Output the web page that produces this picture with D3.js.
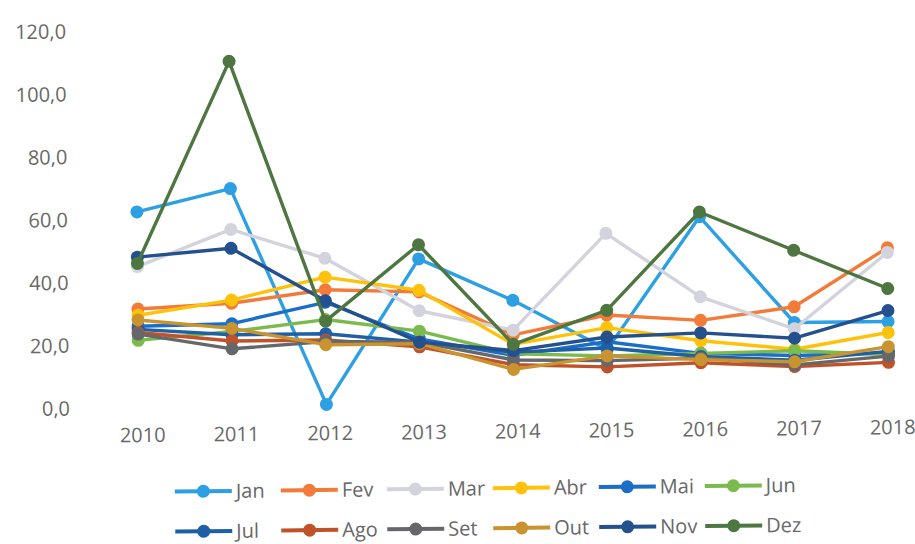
<!DOCTYPE html>
<html>
<head>
<meta charset="utf-8">
<script src="https://cdn.jsdelivr.net/npm/d3@7"></script>
<style>
  html, body { margin: 0; padding: 0; background: #fff; }
  svg { display: block; }
  text { font-family: "Open Sans", "Liberation Sans", sans-serif; }
</style>
</head>
<body>
<svg id="chart" width="915" height="544"></svg>
<script>
// Anos (eixo X)
const years = ["2010", "2011", "2012", "2013", "2014", "2015", "2016", "2017", "2018"];
const months = ["Jan", "Fev", "Mar", "Abr", "Mai", "Jun", "Jul", "Ago", "Set", "Out", "Nov", "Dez"];
const yTicks = [0, 20, 40, 60, 80, 100, 120];

// Valores mensais por ano
const jan = [62.4, 69.5, 0.5, 46.5, 33.0, 17.0, 59.0, 25.0, 25.0];
const fev = [31.5, 33.0, 37.0, 36.0, 22.0, 28.0, 26.0, 30.0, 48.5];
const mar = [45.0, 56.5, 47.0, 30.0, 23.5, 54.0, 33.5, 23.0, 47.0];
const abr = [29.5, 34.0, 41.0, 36.5, 19.0, 24.0, 19.5, 16.5, 21.5];
const mai = [26.0, 26.5, 33.0, 21.0, 15.5, 19.5, 15.5, 14.5, 15.0];
const jun = [21.5, 24.0, 27.5, 23.5, 16.0, 15.0, 15.5, 16.0, 14.5];
const jul = [25.0, 23.0, 23.0, 20.0, 16.5, 17.5, 14.5, 13.0, 15.5];
const ago = [24.0, 21.0, 21.0, 18.5, 12.5, 11.5, 12.5, 11.0, 12.0];
const set = [23.5, 18.5, 20.5, 20.0, 14.0, 13.5, 14.0, 11.5, 14.0];
const out = [28.0, 25.0, 19.5, 19.5, 11.0, 15.0, 13.5, 12.5, 17.0];
const nov = [48.0, 50.5, 33.5, 20.0, 17.0, 21.0, 22.0, 20.0, 28.5];
const dez = [46.0, 110.0, 27.0, 51.0, 19.0, 29.5, 60.5, 48.0, 35.5];

const colors = ["#2d9fe3", "#f27b3a", "#d3d3de", "#fec20c", "#1a6ec7", "#7bbb4e",
                "#1f5fa6", "#c0522a", "#66676b", "#c99430", "#24508e", "#4e7640"];

const seriesValues = [jan, fev, mar, abr, mai, jun, jul, ago, set, out, nov, dez];
const series = months.map((m, i) => ({ name: m, color: colors[i], values: seriesValues[i] }));

const svg = d3.select("#chart");
// leve inclinação do conjunto
const root = svg.append("g").attr("transform", "rotate(-0.6 512 220)");

const x = d3.scalePoint().domain(years).range([137, 887]);
const y = d3.scaleLinear().domain([0, 120]).range([404, 27]);

const labelColor = "#686868";

// Eixo Y (apenas rótulos)
const fmt = v => d3.format(".1f")(v).replace(".", ",");
const yAxis = root.append("g").attr("transform", "translate(70,0)")
  .call(d3.axisLeft(y).tickValues(yTicks).tickFormat(fmt).tickSize(0).tickPadding(2));
yAxis.select(".domain").remove();
yAxis.selectAll("text").attr("fill", labelColor).attr("font-size", 20)
  .style("font-family", "'Open Sans', sans-serif");

// Eixo X (apenas rótulos)
const xAxis = root.append("g").attr("transform", "translate(3,424)")
  .call(d3.axisBottom(x).tickSize(0).tickPadding(0));
xAxis.select(".domain").remove();
xAxis.selectAll("text").attr("fill", labelColor).attr("font-size", 20)
  .attr("dy", "0.71em")
  .style("font-family", "'Open Sans', sans-serif");

// Linhas e marcadores
const line = d3.line().x((d, i) => x(years[i])).y(d => y(d));
const gS = root.append("g");
series.forEach(s => {
  const g = gS.append("g");
  g.append("path").datum(s.values)
    .attr("d", line).attr("fill", "none")
    .attr("stroke", s.color).attr("stroke-width", 3.4)
    .attr("stroke-linejoin", "round");
  g.selectAll("circle").data(s.values).join("circle")
    .attr("cx", (d, i) => x(years[i])).attr("cy", d => y(d))
    .attr("r", 6.5).attr("fill", s.color);
});

// Legenda em duas linhas de seis itens
const legCols = 6, colW = 106, legX0 = 172, rowY = [488, 528], symW = 57;
const leg = root.append("g");
series.forEach((s, i) => {
  const col = i % legCols, row = Math.floor(i / legCols);
  const gx = legX0 + col * colW, gy = rowY[row];
  const g = leg.append("g").attr("transform", `translate(${gx},${gy})`);
  g.append("line").attr("x1", 0).attr("x2", symW).attr("y1", 0).attr("y2", 0)
    .attr("stroke", s.color).attr("stroke-width", 4);
  g.append("circle").attr("cx", symW / 2).attr("cy", 0).attr("r", 6.5).attr("fill", s.color);
  g.append("text").attr("x", symW + 4).attr("y", 0).attr("dy", "0.35em")
    .attr("fill", labelColor).attr("font-size", 20).text(s.name);
});
</script>
</body>
</html>
